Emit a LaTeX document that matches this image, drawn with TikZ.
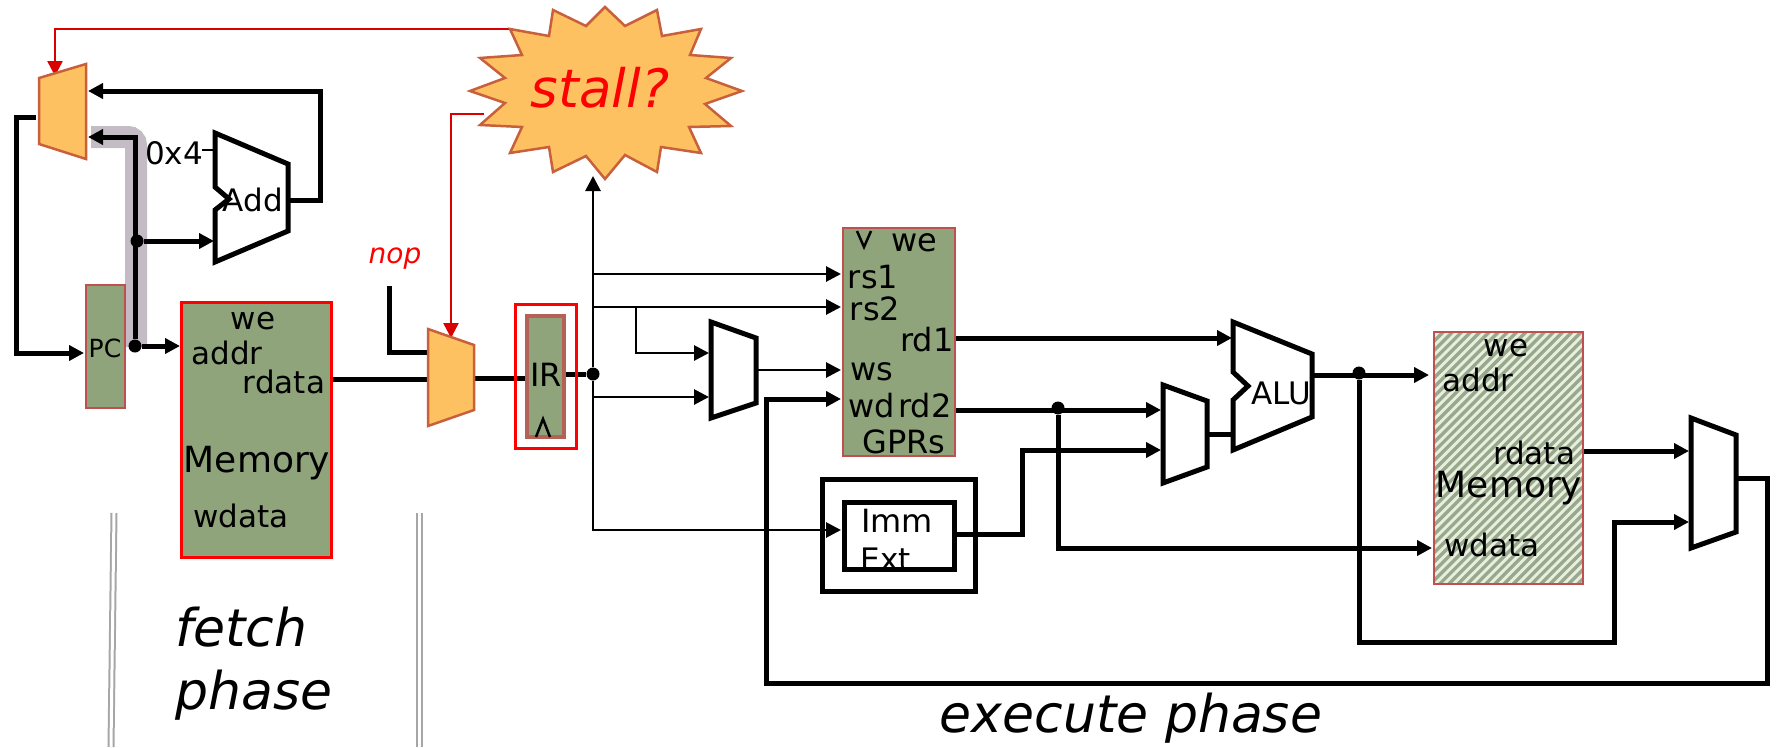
\documentclass[tikz,border=0pt]{standalone}
\usepackage{fontspec}
\setmainfont{DejaVu Sans}
\usetikzlibrary{arrows.meta}

\definecolor{regfill}{HTML}{8FA47A}
\definecolor{muxfill}{HTML}{FDC162}
\definecolor{muxedge}{HTML}{C8603C}
\definecolor{regedge}{HTML}{C05050}
\definecolor{pathgrey}{HTML}{C4BCC4}
\definecolor{hatchdark}{HTML}{98A88A}
\definecolor{hatchlight}{HTML}{E8EEE0}

\tikzset{
  lbl/.style={font=\fontsize{31}{34}\selectfont, text=black, inner sep=0pt},
  gprlbl/.style={font=\fontsize{32}{34}\selectfont, text=black, inner sep=0pt},
  biglbl/.style={font=\fontsize{36}{40}\selectfont, text=black, inner sep=0pt},
  phase/.style={font=\fontsize{52}{63}\selectfont\itshape, text=black, inner sep=0pt, align=left},
  wire/.style={black, line width=5pt},
  thinwire/.style={black, line width=2.8pt},
  redwire/.style={red!85!black, line width=2.5pt},
  tip/.style={-{Triangle[length=15pt,width=15pt]}},
  dot/.style={circle, fill=black, inner sep=0pt, minimum size=13pt},
  mux/.style={draw=black, line width=5pt, fill=white, line join=miter},
  orangemux/.style={draw=muxedge, line width=2.5pt, fill=muxfill},
  reg/.style={draw=regedge, line width=2pt, fill=regfill, inner sep=0pt},
  redbox/.style={draw=red, line width=3pt, inner sep=0pt},
  blackbox/.style={draw=black, line width=5pt, inner sep=0pt},
  pipeline/.style={double=white, draw=gray!70, line width=2pt, double distance=3pt},
}

\begin{document}
\begin{tikzpicture}[x=1pt, y=-1pt]
\useasboundingbox (0,0) rectangle (1782,747);

% Phase separators
\draw[pipeline] (114,513) -- (111,747);
\draw[pipeline] (419,513) -- (419,747);

% Highlighted path
\draw[pathgrey, line width=22pt, rounded corners=8pt] (91,137) -- (136,137) -- (136,347);

% Junctions
\node[dot] (pcadd) at (137,241) {};
\node[dot] (pcout) at (135,346) {};
\node[dot] (irout) at (593,374) {};
\node[dot] (rdtwo) at (1058,408) {};
\node[dot] (aluout) at (1359,373) {};

% Free ends of the wires
\coordinate (stalltop) at (510,29);
\coordinate (stallside) at (484,114);
\coordinate (fetchmuxsel) at (55,76);
\coordinate (fetchmuxin) at (88,91);
\coordinate (fetchmuxpc) at (88,137);
\coordinate (fetchmuxout) at (36,117);
\coordinate (pcin) at (84,353);
\coordinate (addinb) at (214,241);
\coordinate (addina) at (215,150);
\coordinate (fourend) at (202,150);
\coordinate (addout) at (288,200);
\coordinate (imemin) at (180,346);
\coordinate (imemout) at (331,379);
\coordinate (nopstart) at (389,286);
\coordinate (irmuxin) at (430,352);
\coordinate (irmuxdata) at (428,379);
\coordinate (irmuxsel) at (451,338);
\coordinate (irmuxout) at (474,378);
\coordinate (irin) at (526,378);
\coordinate (irend) at (565,374);
\coordinate (stallin) at (593,176);
\coordinate (wsmuxa) at (709,353);
\coordinate (wsmuxb) at (709,397);
\coordinate (wsmuxout) at (756,370);
\coordinate (rsonein) at (841,274);
\coordinate (rstwoin) at (841,307);
\coordinate (wsin) at (841,370);
\coordinate (wdin) at (841,399);
\coordinate (immin) at (841,530);
\coordinate (immout) at (956,534);
\coordinate (rdoneout) at (955,338);
\coordinate (rdtwoout) at (955,410);
\coordinate (alumuxa) at (1161,410);
\coordinate (alumuxb) at (1161,450);
\coordinate (alumuxout) at (1207,434);
\coordinate (aluina) at (1232,338);
\coordinate (aluinb) at (1233,434);
\coordinate (aluend) at (1312,375);
\coordinate (addrin) at (1429,375);
\coordinate (wdatain) at (1432,548);
\coordinate (rdataout) at (1583,451);
\coordinate (wbmuxa) at (1689,451);
\coordinate (wbmuxb) at (1689,522);
\coordinate (wbmuxout) at (1736,478);

% Fetch wires
\draw[redwire, tip] (stalltop) -| (fetchmuxsel);
\draw[wire, tip] (addout) -- (320,200) |- (fetchmuxin);
\draw[wire, tip] (pcout) |- (fetchmuxpc);
\draw[wire, tip] (pcadd) -- (addinb);
\draw[thinwire] (fourend) -- (addina);
\draw[wire, tip] (pcout) -- (imemin);
\draw[wire, tip] (fetchmuxout) -- (16,117) |- (pcin);
\draw[wire] (imemout) -- (irmuxdata);
\draw[wire] (nopstart) |- (irmuxin);
\draw[redwire, tip] (stallside) -| (irmuxsel);
\draw[wire] (irmuxout) -- (irin);
\draw[wire] (irend) -- (irout);

% Decode wires
\draw[thinwire, tip] (irout) -- (stallin);
\draw[thinwire, tip] (irout) |- (immin);
\draw[thinwire, tip] (593,274) -- (rsonein);
\draw[thinwire, tip] (593,307) -- (rstwoin);
\draw[thinwire, tip] (636,307) |- (wsmuxa);
\draw[thinwire, tip] (593,397) -- (wsmuxb);
\draw[thinwire, tip] (wsmuxout) -- (wsin);
\draw[wire, tip] (wbmuxout) -- (1767,478) |- (766,683) |- (wdin);

% Execute wires
\draw[wire, tip] (rdoneout) -- (aluina);
\draw[wire, tip] (rdtwoout) -- (alumuxa);
\draw[wire, tip] (rdtwo) |- (wdatain);
\draw[wire, tip] (immout) -- (1022,534) |- (alumuxb);
\draw[wire] (alumuxout) -- (aluinb);
\draw[wire, tip] (aluend) -- (addrin);
\draw[wire, tip] (aluout) |- (1614,642) |- (wbmuxb);
\draw[wire, tip] (rdataout) -- (wbmuxa);

% Stall burst
\draw[orangemux] (605,7) -- (625,26) -- (657,10) -- (662,36) -- (701,29) -- (690,55) -- (731,58) -- (706,78)
  -- (742,91) -- (705,104) -- (731,126) -- (689,127) -- (701,153) -- (661,147) -- (657,172) -- (625,155)
  -- (605,179) -- (586,156) -- (553,172) -- (549,147) -- (510,153) -- (522,127) -- (480,125) -- (505,103)
  -- (470,91) -- (505,78) -- (480,58) -- (522,55) -- (510,29) -- (549,36) -- (553,10) -- (586,26) -- cycle;
\node[font=\fontsize{53}{60}\selectfont\itshape, text=red, inner sep=0pt] (stall) at (600,88) {stall?};

% Muxes
\draw[orangemux] (39,78) -- (86,64) -- (86,159) -- (39,144) -- cycle;
\draw[orangemux] (428,329) -- (474,345) -- (474,410) -- (428,426) -- cycle;
\draw[mux] (711,322) -- (756,338) -- (756,403) -- (711,418) -- cycle;
\draw[mux] (1163,385) -- (1207,401) -- (1207,467) -- (1163,483) -- cycle;
\draw[mux] (1691,418) -- (1736,435) -- (1736,532) -- (1691,548) -- cycle;

% Adder and ALU
\draw[mux] (215,133) -- (288,164) -- (288,231) -- (215,262) -- (215,210) -- (229,199) -- (215,187) -- cycle;
\draw[mux] (1233,322) -- (1312,354) -- (1312,417) -- (1233,450) -- (1233,400) -- (1248,386) -- (1233,372) -- cycle;
\node[lbl] (add) at (253,200) {Add};
\node[lbl] (alu) at (1281,393) {ALU};
\node[lbl] (four) at (174,153) {0x4};

% Registers and memories
\node[reg, minimum width=39pt, minimum height=123pt] (pc) at (105.5,346.5) {};
\node[lbl, font=\fontsize{25}{28}\selectfont] (pctext) at (105,348) {PC};
\node[reg, draw=red, line width=3pt, minimum width=150pt, minimum height=255pt] (imem) at (256,429.5) {};
\node[lbl] (imemwe) at (253,321) {we};
\node[lbl] (imemaddr) at (227,353) {addr};
\node[lbl] (imemrdata) at (284,382) {rdata};
\node[biglbl] (imemname) at (257,463) {Memory};
\node[lbl] (imemwdata) at (241,516) {wdata};

\node[redbox, minimum width=61pt, minimum height=144pt] (irframe) at (545.5,376) {};
\node[reg, draw=regedge!80!regfill, line width=4pt, minimum width=37pt, minimum height=121pt] (ir) at (545.5,376.5) {};
\node[gprlbl] (irtext) at (546,375) {IR};
\draw[black, line width=2.5pt] (536,437) -- (543,419) -- (550,437);

\node[reg, minimum width=112pt, minimum height=228pt] (gprs) at (899,342) {};
\draw[black, line width=2.5pt] (857,231) -- (864,247) -- (871,231);
\node[gprlbl] (gprswe) at (914,243) {we};
\node[gprlbl] (gprsrsone) at (873,277) {rs1};
\node[gprlbl] (gprsrstwo) at (875,309) {rs2};
\node[gprlbl] (gprsrdone) at (927,340) {rd1};
\node[gprlbl] (gprsws) at (872,372) {ws};
\node[gprlbl] (gprswd) at (872,406) {wd};
\node[gprlbl] (gprsrdtwo) at (925,406) {rd2};
\node[gprlbl] (gprsname) at (904,442) {GPRs};

\node[blackbox, minimum width=153pt, minimum height=112pt] (immframe) at (899,535.5) {};
\node[blackbox, minimum width=110pt, minimum height=67pt] (immbox) at (899,535.5) {};
\node[gprlbl] (immtext) at (897,521) {Imm};
\node[lbl] (exttext) at (886,559) {Ext};

% Hatched data memory
\begin{scope}
\clip (1434,332) rectangle (1583,584);
\fill[hatchlight] (1434,332) rectangle (1583,584);
\foreach \hx in {1182,1191.2,...,1590}
  \draw[hatchdark, line width=3.3pt] (\hx,584) -- ({\hx+252},332);
\end{scope}
\node[draw=regedge, line width=2pt, inner sep=0pt, minimum width=149pt, minimum height=252pt] (dmem) at (1508.5,458) {};
\node[lbl] (dmemwe) at (1506,348) {we};
\node[lbl] (dmemaddr) at (1478,380) {addr};
\node[lbl] (dmemrdata) at (1534,453) {rdata};
\node[biglbl] (dmemname) at (1509,488) {Memory};
\node[lbl] (dmemwdata) at (1492,545) {wdata};

% Free labels
\node[lbl, font=\fontsize{28}{32}\selectfont\itshape, text=red] (nop) at (395,259) {nop};
\node[phase, anchor=west] (fetchphase) at (175,664) {fetch\\phase};
\node[phase] (executephase) at (1131,718) {execute phase};
\end{tikzpicture}
\end{document}
